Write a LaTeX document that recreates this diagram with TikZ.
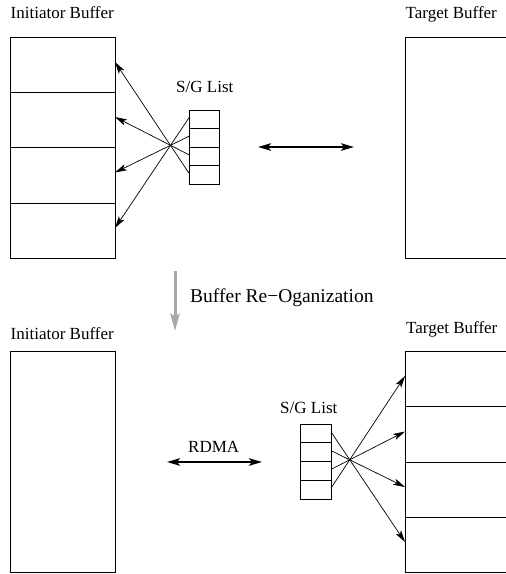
\documentclass[tikz,border=0pt]{standalone}
\usepackage{fontspec}
\setmainfont{Liberation Serif}
\usetikzlibrary{arrows.meta,calc}
\definecolor{reorggray}{RGB}{168,168,168}
\begin{document}
\begin{tikzpicture}[x=1pt,y=-1pt,
  cell/.style={draw, line width=0.9pt, inner sep=0pt, outer sep=0pt, anchor=north west},
  lbl/.style={font=\fontsize{17}{20}\selectfont, inner sep=0pt, anchor=base west},
  ptr/.style={line width=0.7pt, -{Stealth[length=12pt,width=6.5pt,inset=3pt]}},
  dbl/.style={line width=2pt, {Stealth[length=13pt,width=7.5pt,inset=3pt]}-{Stealth[length=13pt,width=7.5pt,inset=3pt]}},
  reorg/.style={line width=3pt, draw=reorggray, -{Stealth[length=17pt,width=9pt,inset=2pt,fill=reorggray]}}]
\useasboundingbox (0,0) rectangle (506,574);
\clip (0,0) rectangle (506,574);

% ---------- top half ----------
\node[lbl] (lIB1) at (10.5,18) {Initiator Buffer};
\node[lbl] (lTB1) at (405.5,18) {Target Buffer};
\node[lbl] (lSG1) at (176,92.5) {S/G List};

\node[cell, minimum width=105pt, minimum height=55pt] (ic1) at (10,37) {};
\node[cell, minimum width=105pt, minimum height=55pt] (ic2) at (10,92) {};
\node[cell, minimum width=105pt, minimum height=56pt] (ic3) at (10,147) {};
\node[cell, minimum width=105pt, minimum height=55pt] (ic4) at (10,203) {};

\node[cell, minimum width=120pt, minimum height=221pt] (tb1) at (405,37) {};

\node[cell, minimum width=30pt, minimum height=18.5pt] (sa1) at (189,110) {};
\node[cell, minimum width=30pt, minimum height=18.5pt] (sa2) at (189,128.5) {};
\node[cell, minimum width=30pt, minimum height=18.5pt] (sa3) at (189,147) {};
\node[cell, minimum width=30pt, minimum height=18.5pt] (sa4) at (189,165.5) {};

\draw[ptr] ([yshift=1.5pt]sa1.west) -- ([yshift=2.5pt]ic4.east);
\draw[ptr] ([yshift=1.5pt]sa2.west) -- ([yshift=2.5pt]ic3.east);
\draw[ptr] ([yshift=1.5pt]sa3.west) -- ([yshift=2.5pt]ic2.east);
\draw[ptr] ([yshift=1.5pt]sa4.west) -- ([yshift=2.5pt]ic1.east);

\coordinate (da1) at (258,147);
\coordinate (da2) at (354,147);
\draw[dbl] (da1) -- (da2);

% ---------- re-organization ----------
\coordinate (g1) at (175,271);
\coordinate (g2) at (175,331);
\draw[reorg] (g1) -- (g2);
\node[lbl, font=\fontsize{19.5}{22}\selectfont] (lRe) at (190,302.5) {Buffer Re−Oganization};

% ---------- bottom half ----------
\node[lbl] (lIB2) at (10.5,339) {Initiator Buffer};
\node[lbl] (lTB2) at (406,333) {Target Buffer};
\node[lbl] (lSG2) at (280,413) {S/G List};
\node[lbl] (lRD) at (188,452) {RDMA};

\node[cell, minimum width=105pt, minimum height=221pt] (ib2) at (10,351) {};

\node[cell, minimum width=120pt, minimum height=55pt] (tc1) at (405,351) {};
\node[cell, minimum width=120pt, minimum height=56pt] (tc2) at (405,406) {};
\node[cell, minimum width=120pt, minimum height=55pt] (tc3) at (405,462) {};
\node[cell, minimum width=120pt, minimum height=55pt] (tc4) at (405,517) {};

\node[cell, minimum width=31pt, minimum height=18.75pt] (sb1) at (300,424) {};
\node[cell, minimum width=31pt, minimum height=18.75pt] (sb2) at (300,442.75) {};
\node[cell, minimum width=31pt, minimum height=18.75pt] (sb3) at (300,461.5) {};
\node[cell, minimum width=31pt, minimum height=18.75pt] (sb4) at (300,480.25) {};

\draw[ptr] ([yshift=1.5pt]sb1.east) -- ([yshift=2.5pt]tc4.west);
\draw[ptr] ([yshift=1.5pt]sb2.east) -- ([yshift=2.5pt]tc3.west);
\draw[ptr] ([yshift=1.5pt]sb3.east) -- ([yshift=2.5pt]tc2.west);
\draw[ptr] ([yshift=1.5pt]sb4.east) -- ([yshift=2.5pt]tc1.west);

\coordinate (db1) at (167,462);
\coordinate (db2) at (262,462);
\draw[dbl] (db1) -- (db2);
\end{tikzpicture}
\end{document}
